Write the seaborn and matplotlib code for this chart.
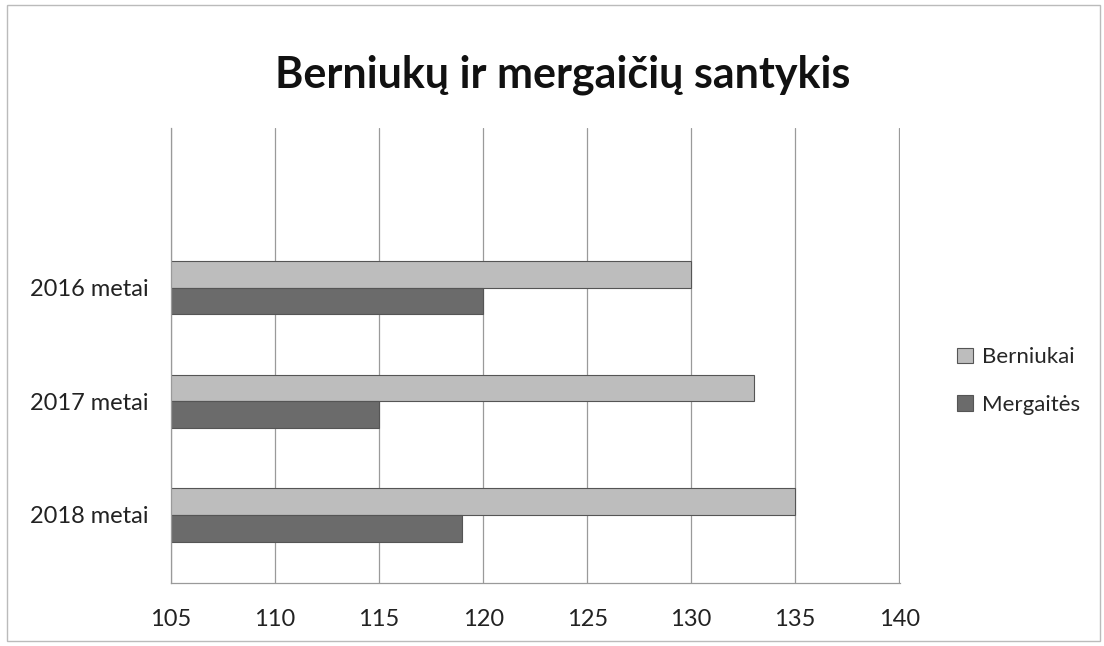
import pandas as pd
import matplotlib
matplotlib.use("Agg")
import matplotlib.pyplot as plt
import seaborn as sns

# data
years = ["2016 metai", "2017 metai", "2018 metai"]
berniukai = [130, 133, 135]
mergaites = [120, 115, 119]
series = ["Berniukai", "Mergaitės"]

df = pd.DataFrame({
    "metai": years * 2,
    "grupe": [series[0]] * 3 + [series[1]] * 3,
    "kiekis": berniukai + mergaites,
})

sns.set_style("white")
plt.rcParams["font.family"] = ["Lato", "DejaVu Sans"]

fig = plt.figure(figsize=(11.04, 6.46), dpi=100)
ax = fig.add_axes([0.155, 0.0975, 0.66, 0.705])

sns.barplot(data=df, y="metai", x="kiekis", hue="grupe", hue_order=series,
            orient="h", palette=["#bdbdbd", "#6b6b6b"], width=0.47,
            edgecolor="#555555", linewidth=0.8, saturation=1, ax=ax)

ax.set_xlim(105, 140.03)
ax.set_xticks(range(105, 141, 5))
ax.set_ylim(2.6, -1.41)
ax.set_xlabel("")
ax.set_ylabel("")
ax.grid(axis="x", color="#9a9a9a", linewidth=0.9)
ax.set_axisbelow(True)
for s in ["top", "right"]:
    ax.spines[s].set_visible(False)
for s in ["left", "bottom"]:
    ax.spines[s].set_color("#9a9a9a")
    ax.spines[s].set_linewidth(0.9)
ax.tick_params(axis="x", length=0, pad=19, labelsize=17, colors="#222222")
ax.tick_params(axis="y", length=0, pad=16, labelsize=17, colors="#222222")

ax.legend(title=None, frameon=False, loc="center left",
          bbox_to_anchor=(0.849, 0.41), bbox_transform=fig.transFigure,
          fontsize=16, handlelength=0.7, handleheight=0.7,
          labelspacing=1.25, handletextpad=0.4)

fig.text(0.51, 1 - 75 / 646, "Berniukų ir mergaičių santykis",
         ha="center", va="center", fontsize=31, fontweight="bold", color="#111111")

fig.add_artist(plt.Rectangle((0.006, 0.008), 0.99, 0.985, transform=fig.transFigure,
                             fill=False, edgecolor="#bbbbbb", linewidth=1))

fig.savefig("out.png", dpi=100)
